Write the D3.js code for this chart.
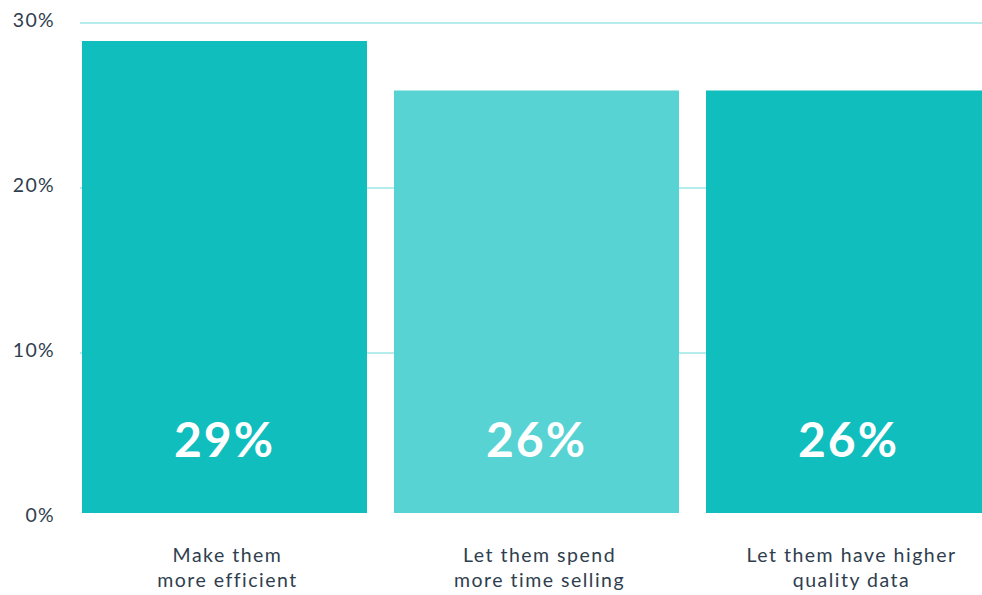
<!DOCTYPE html>
<html>
<head>
<meta charset="utf-8">
<script src="https://cdn.jsdelivr.net/npm/d3@7"></script>
<style>
  html, body { margin: 0; padding: 0; background: #ffffff; }
  svg { display: block; }
  text { font-family: "Lato", "Inter", "Noto Sans", sans-serif; }
</style>
</head>
<body>
<svg id="chart" width="982" height="595"></svg>
<script>
// ---- data ----
const categories = [
  ["Make them", "more efficient"],
  ["Let them spend", "more time selling"],
  ["Let them have higher", "quality data"]
];
const values = [29, 26, 26];
const barColors = ["#10bebe", "#57d3d3", "#10bebe"];
const yTicks = [0, 10, 20, 30];

// ---- layout ----
const svg = d3.select("#chart");
const plotLeft = 82, plotRight = 991;
const yZero = 518, yTop = 23;

const x = d3.scaleBand()
  .domain(d3.range(values.length))
  .range([plotLeft, plotRight])
  .paddingInner(27 / 312)
  .paddingOuter(0);

const y = d3.scaleLinear().domain([0, 30]).range([yZero, yTop]);

// gridlines (10,20,30)
svg.append("g").selectAll("line")
  .data(yTicks.filter(d => d > 0))
  .join("line")
  .attr("x1", 80).attr("x2", 990)
  .attr("y1", d => y(d)).attr("y2", d => y(d))
  .attr("stroke", "#b5eded").attr("stroke-width", 2);

// y-axis labels
const yAxis = d3.axisLeft(y).tickValues(yTicks).tickFormat(d => d + "%").tickSize(0).tickPadding(0);
const gy = svg.append("g").attr("transform", "translate(55,-3)").call(yAxis);
gy.select(".domain").remove();
gy.selectAll("text")
  .attr("font-size", 19.5)
  .attr("letter-spacing", 1.3)
  .attr("fill", "#2f3e4e")
  .attr("font-family", "Lato, Inter, sans-serif");

// bars
const barBottom = y(0) - 5;
svg.append("g").selectAll("rect")
  .data(values)
  .join("rect")
  .attr("x", (d, i) => x(i))
  .attr("width", x.bandwidth())
  .attr("y", d => y(d) + 1.5)
  .attr("height", d => barBottom - (y(d) + 1.5))
  .attr("fill", (d, i) => barColors[i]);

// value labels
svg.append("g").selectAll("text")
  .data(values)
  .join("text")
  .attr("x", (d, i) => x(i) + x.bandwidth() / 2 + 0)
  .attr("y", barBottom - 75)
  .attr("text-anchor", "middle")
  .attr("dominant-baseline", "central")
  .attr("font-size", 48)
  .attr("letter-spacing", 2)
  .attr("font-weight", 700)
  .attr("fill", "#ffffff")
  .text(d => d3.format(".0f")(d) + "%");

// category labels
const cat = svg.append("g").selectAll("text")
  .data(categories)
  .join("text")
  .attr("text-anchor", "middle")
  .attr("font-size", 19.5)
  .attr("letter-spacing", 1.5)
  .attr("fill", "#2f3e4e");
cat.each(function(lines, i) {
  const t = d3.select(this);
  lines.forEach((ln, j) => {
    t.append("tspan")
      .attr("x", x(i) + x.bandwidth() / 2 + 3)
      .attr("y", 562 + j * 25)
      .text(ln);
  });
});
</script>
</body>
</html>
